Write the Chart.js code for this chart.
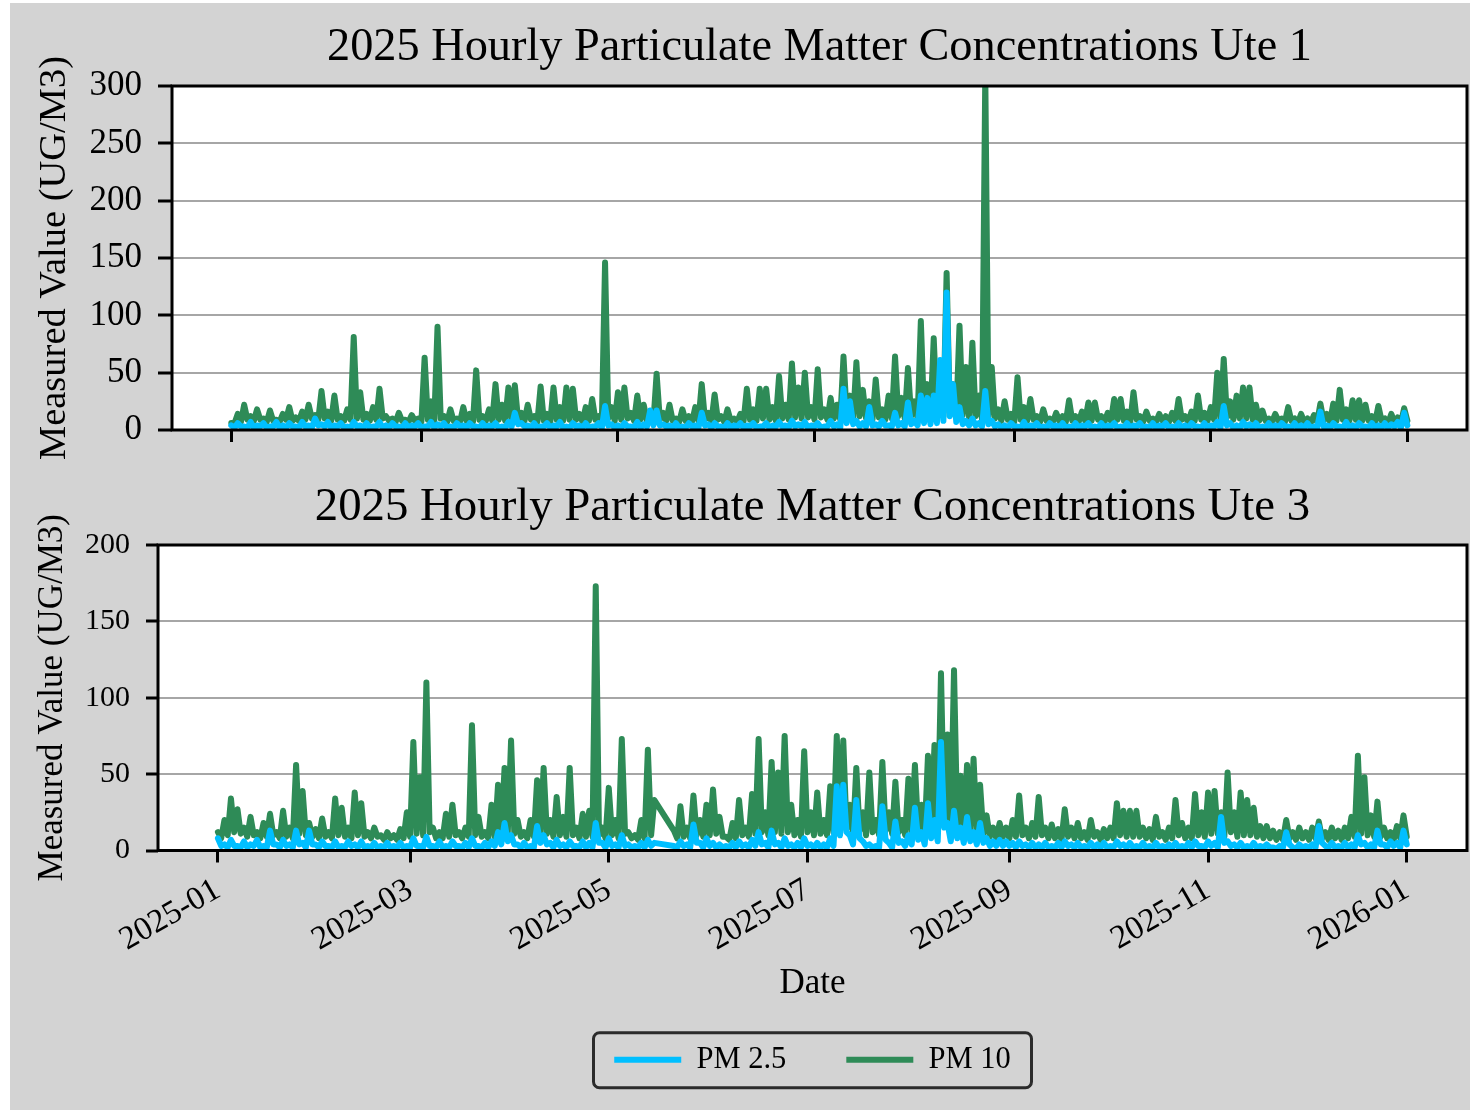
<!DOCTYPE html>
<html>
<head>
<meta charset="utf-8">
<script src="https://cdn.jsdelivr.net/npm/chart.js@4.4.1/dist/chart.umd.min.js"></script>
<style>
  html, body { margin: 0; padding: 0; background: #fff; }
  #fig { position: absolute; left: 10px; top: 3px; width: 1460px; height: 1107px; background: #d3d3d3; overflow: hidden; }
  #fig canvas { position: absolute; left: 0; }
  #c1 { top: 0; }
  #c2 { top: 467px; }
</style>
</head>
<body>
<div id="fig">
  <canvas id="c1" width="1460" height="467"></canvas>
  <canvas id="c2" width="1460" height="640"></canvas>
</div>
<script>
(function () {
  "use strict";
  if (typeof Chart === "undefined") return;

  // readings summarised per 2-day window, day 0 = 2025-01-01:
  // *_PEAK = high of the window (plotted on the even day), *_LOW = low (on the odd day)
  var STEP_DAYS = 2;
  var MONTH_DAYS = [0, 59, 120, 181, 243, 304, 365];
  var MONTH_LABELS = ["2025-01", "2025-03", "2025-05", "2025-07", "2025-09", "2025-11", "2026-01"];
  var SERIES = ["PM 2.5", "PM 10"];
  var TITLE_1 = "2025 Hourly Particulate Matter Concentrations Ute 1";
  var TITLE_3 = "2025 Hourly Particulate Matter Concentrations Ute 3";

  var UTE1_PM25_PEAK = [
    4, 6, 3, 7, 4, 6, 3, 7, 4, 6,
    3, 7, 4, 10, 5, 7, 4, 6, 3, 7,
    4, 6, 3, 7, 4, 6, 3, 6, 4, 6,
    3, 7, 5, 6, 3, 6, 4, 6, 3, 6,
    4, 6, 3, 7, 15, 6, 4, 6, 3, 6,
    4, 7, 3, 6, 4, 6, 3, 6, 21, 5,
    4, 6, 3, 7, 5, 17, 17, 5, 4, 6,
    3, 6, 4, 15, 5, 6, 3, 6, 4, 6,
    4, 6, 3, 6, 4, 7, 4, 8, 5, 7,
    4, 6, 3, 8, 5, 36, 25, 8, 6, 20,
    5, 8, 4, 15, 6, 24, 8, 30, 28, 30,
    61, 120, 40, 20, 8, 10, 6, 34, 8, 5,
    4, 6, 3, 7, 4, 6, 3, 6, 4, 6,
    3, 6, 4, 6, 3, 6, 4, 6, 3, 6,
    4, 6, 3, 6, 4, 6, 3, 6, 4, 6,
    3, 6, 4, 7, 21, 6, 4, 7, 5, 6,
    3, 6, 4, 6, 3, 6, 4, 6, 3, 16,
    4, 6, 3, 7, 4, 6, 3, 6, 4, 6,
    5, 7, 15
  ];
  var UTE1_PM25_LOW = [
    2, 3, 2, 2, 3, 2, 3, 2, 2, 3,
    2, 3, 2, 4, 3, 2, 3, 2, 2, 3,
    2, 2, 3, 2, 2, 3, 2, 2, 3, 2,
    3, 2, 3, 2, 2, 3, 2, 3, 2, 2,
    3, 2, 2, 3, 5, 3, 2, 2, 3, 2,
    3, 2, 2, 3, 2, 2, 3, 2, 4, 2,
    2, 3, 2, 2, 3, 4, 4, 3, 2, 2,
    2, 3, 2, 4, 2, 3, 2, 2, 3, 2,
    3, 2, 3, 2, 3, 3, 2, 3, 3, 2,
    3, 2, 3, 3, 2, 6, 5, 3, 3, 4,
    3, 4, 3, 4, 3, 5, 4, 6, 5, 6,
    8, 12, 7, 5, 4, 4, 3, 5, 3, 2,
    2, 3, 2, 2, 3, 2, 2, 3, 2, 2,
    2, 2, 3, 2, 2, 2, 3, 2, 2, 2,
    3, 2, 2, 2, 3, 2, 2, 2, 2, 3,
    2, 2, 3, 2, 4, 2, 2, 3, 2, 2,
    2, 2, 2, 3, 2, 2, 2, 2, 2, 3,
    2, 3, 2, 2, 2, 3, 2, 2, 2, 2,
    3, 2, 4
  ];
  var UTE1_PM10_PEAK = [
    6, 14, 22, 12, 18, 10, 17, 9, 14, 20,
    11, 16, 22, 13, 34, 16, 30, 12, 18, 81,
    33, 14, 20, 36, 12, 10, 15, 9, 13, 10,
    63, 25, 90, 12, 18, 10, 20, 14, 52, 12,
    18, 40, 22, 37, 39, 15, 22, 12, 38, 14,
    37, 20, 37, 36, 14, 20, 27, 12, 146, 20,
    33, 37, 15, 30, 22, 12, 49, 15, 22, 10,
    18, 12, 20, 40, 15, 31, 12, 18, 10, 14,
    36, 18, 36, 36, 20, 47, 22, 58, 37, 50,
    20, 53, 18, 28, 22, 64, 30, 59, 35, 25,
    44, 18, 30, 64, 28, 54, 25, 95, 40, 80,
    45, 137, 40, 91, 55, 76, 30, 310, 55, 18,
    25, 14, 46, 20, 27, 12, 18, 10, 15, 12,
    26, 12, 16, 24, 24, 12, 15, 27, 27, 16,
    33, 12, 16, 10, 14, 12, 15, 27, 12, 16,
    30, 15, 20, 50, 62, 25, 30, 37, 37, 22,
    17, 10, 14, 10, 20, 10, 14, 10, 13, 23,
    14, 23, 35, 18, 26, 26, 22, 12, 21, 10,
    14, 11, 19
  ];
  var UTE1_PM10_LOW = [
    6, 7, 9, 8, 9, 7, 8, 7, 9, 8,
    8, 9, 10, 9, 10, 8, 9, 8, 9, 10,
    9, 8, 9, 10, 8, 7, 8, 7, 8, 7,
    9, 8, 10, 7, 8, 7, 8, 7, 9, 8,
    8, 9, 8, 10, 9, 8, 9, 7, 8, 7,
    9, 8, 9, 9, 7, 8, 9, 7, 10, 8,
    9, 10, 8, 9, 8, 7, 9, 8, 8, 7,
    8, 7, 8, 9, 7, 9, 7, 8, 7, 8,
    9, 8, 10, 9, 8, 10, 9, 11, 10, 11,
    9, 11, 9, 10, 9, 12, 10, 12, 10, 9,
    11, 9, 10, 12, 10, 12, 10, 14, 11, 13,
    12, 15, 11, 13, 10, 12, 9, 11, 10, 8,
    9, 7, 9, 8, 9, 7, 8, 7, 8, 7,
    8, 7, 8, 8, 9, 7, 8, 9, 8, 7,
    9, 7, 8, 7, 8, 7, 8, 9, 7, 8,
    9, 8, 9, 10, 11, 9, 10, 10, 9, 8,
    8, 7, 8, 7, 8, 6, 7, 6, 7, 8,
    7, 8, 9, 8, 9, 8, 8, 7, 8, 6,
    7, 6, 8
  ];
  var UTE3_PM25_PEAK = [
    8, 4, 7, 3, 6, 4, 7, 3, 13, 4,
    7, 4, 13, 5, 13, 4, 6, 3, 6, 3,
    6, 4, 6, 3, 5, 3, 5, 3, 5, 3,
    8, 3, 9, 3, 6, 3, 6, 3, 5, 8,
    3, 5, 6, 12, 18, 10, 4, 5, 3, 16,
    10, 5, 7, 4, 6, 3, 6, 5, 18, 5,
    8, 4, 10, 4, 3, 5, 7, 5, null, null,
    3, 6, 4, 17, 5, 8, 5, 4, 3, 5,
    6, 4, 7, 12, 5, 13, 5, 8, 4, 5,
    8, 4, 5, 4, 8, 42, 43, 10, 33, 6,
    4, 3, 29, 5, 19, 6, 10, 28, 12, 31,
    20, 71, 18, 26, 15, 22, 12, 18, 8, 6,
    7, 6, 5, 6, 4, 5, 4, 5, 3, 5,
    6, 4, 5, 3, 5, 4, 5, 3, 6, 4,
    5, 3, 5, 3, 5, 3, 4, 5, 3, 5,
    6, 3, 6, 5, 22, 6, 4, 5, 3, 5,
    3, 4, 2, 3, 12, 2, 4, 3, 4, 16,
    3, 5, 3, 5, 4, 10, 5, 4, 13, 4,
    6, 5, 13
  ];
  var UTE3_PM25_LOW = [
    3, 2, 3, 2, 2, 3, 2, 2, 4, 2,
    3, 2, 4, 2, 4, 2, 3, 2, 2, 2,
    3, 2, 2, 2, 2, 2, 2, 2, 2, 2,
    3, 2, 3, 2, 2, 2, 3, 2, 2, 3,
    2, 2, 3, 4, 6, 4, 2, 2, 2, 5,
    4, 2, 3, 2, 3, 2, 2, 2, 5, 2,
    3, 2, 3, 2, 2, 2, 3, null, null, null,
    2, 3, 2, 5, 2, 3, 2, 2, 2, 2,
    3, 2, 3, 4, 2, 4, 2, 3, 2, 2,
    3, 2, 2, 2, 3, 10, 12, 4, 8, 3,
    2, 2, 7, 2, 5, 3, 4, 7, 4, 8,
    6, 15, 6, 8, 5, 6, 4, 5, 3, 3,
    3, 3, 2, 3, 2, 2, 2, 2, 2, 2,
    3, 2, 2, 2, 2, 2, 2, 2, 3, 2,
    2, 2, 2, 2, 2, 2, 2, 2, 2, 2,
    3, 2, 3, 2, 5, 3, 2, 2, 2, 2,
    2, 2, 1, 2, 4, 1, 2, 2, 2, 5,
    2, 2, 2, 2, 2, 4, 2, 2, 4, 2,
    3, 2, 4
  ];
  var UTE3_PM10_PEAK = [
    12, 20, 34, 27, 15, 22, 12, 18, 24, 12,
    26, 15, 56, 39, 18, 14, 21, 12, 34, 28,
    15, 38, 31, 12, 15, 10, 12, 10, 14, 25,
    71, 48, 110, 15, 12, 24, 30, 12, 15, 82,
    22, 12, 30, 43, 54, 72, 20, 12, 20, 46,
    54, 20, 35, 22, 54, 15, 24, 26, 173, 15,
    41, 20, 73, 12, 10, 20, 66, 33, null, null,
    13, 29, 15, 36, 20, 30, 40, 22, 9, 18,
    33, 15, 37, 73, 25, 58, 51, 75, 30, 20,
    65, 25, 38, 20, 42, 75, 72, 30, 54, 25,
    51, 20, 58, 25, 45, 20, 47, 56, 30, 62,
    69, 116, 76, 118, 49, 56, 60, 43, 23, 15,
    18, 15, 20, 36, 15, 18, 35, 15, 17, 14,
    27, 15, 18, 12, 20, 12, 14, 15, 31, 26,
    26, 26, 15, 14, 22, 12, 15, 33, 18, 15,
    37, 25, 38, 39, 25, 51, 25, 38, 33, 28,
    16, 16, 13, 12, 20, 12, 15, 12, 15, 19,
    12, 15, 13, 15, 22, 62, 48, 23, 32, 15,
    12, 16, 23
  ];
  var UTE3_PM10_LOW = [
    8, 10, 12, 11, 9, 10, 8, 9, 10, 8,
    9, 8, 11, 10, 9, 8, 9, 8, 10, 9,
    8, 10, 9, 8, 9, 7, 8, 7, 8, 9,
    11, 10, 12, 8, 8, 9, 10, 8, 9, 10,
    9, 8, 9, 11, 12, 11, 9, 8, 9, 10,
    11, 9, 10, 9, 10, 8, 9, 9, 10, 8,
    10, 8, 11, 8, 7, 8, 10, null, null, null,
    8, 9, 8, 10, 9, 10, 11, 9, 7, 8,
    10, 9, 11, 12, 10, 12, 11, 12, 10, 9,
    12, 10, 11, 10, 12, 15, 14, 11, 13, 10,
    12, 10, 13, 11, 12, 10, 12, 13, 11, 14,
    14, 16, 15, 16, 12, 13, 12, 11, 9, 8,
    9, 8, 9, 10, 8, 9, 10, 8, 8, 7,
    9, 8, 8, 7, 9, 7, 8, 8, 10, 9,
    9, 9, 8, 7, 9, 7, 8, 10, 8, 8,
    10, 9, 11, 11, 9, 12, 9, 10, 10, 9,
    8, 8, 7, 7, 8, 7, 8, 7, 8, 8,
    7, 8, 7, 8, 9, 11, 10, 9, 9, 8,
    7, 8, 9
  ];

  var COLORS = {
    pm25: "#00bfff",
    pm10: "#2e8b57",
    grid: "#a6a6a6",
    ink: "#000000",
    frame: "#2b2b2b",
  };
  var SERIF = '"Liberation Serif", "Times New Roman", serif';

  Chart.defaults.font.family = SERIF;
  Chart.defaults.color = COLORS.ink;

  function points(peak, low) {
    var out = [];
    peak.forEach(function (v, i) {
      out.push({ x: i * STEP_DAYS, y: v });
      out.push({ x: i * STEP_DAYS + 1, y: low[i] });
    });
    return out;
  }

  function dataset(label, peak, low, color) {
    return {
      label: label, data: points(peak, low),
      borderColor: color, backgroundColor: color, borderWidth: 6,
      pointRadius: 0, tension: 0, spanGaps: true, fill: false,
      borderJoinStyle: "round", borderCapStyle: "round", clip: 0,
    };
  }

  // white plot area + black box around it
  var plotBox = {
    id: "plotBox",
    beforeDraw: function (chart) {
      var a = chart.chartArea, ctx = chart.ctx;
      ctx.save();
      ctx.fillStyle = "#ffffff";
      ctx.fillRect(a.left, a.top, a.right - a.left, a.bottom - a.top);
      ctx.restore();
    },
    afterDatasetsDraw: function (chart) {
      var a = chart.chartArea, ctx = chart.ctx;
      ctx.save();
      ctx.strokeStyle = COLORS.ink;
      ctx.lineWidth = 3;
      ctx.strokeRect(a.left, a.top, a.right - a.left, a.bottom - a.top);
      ctx.restore();
    },
  };

  // rounded frame round the legend entries
  var legendFrame = {
    id: "legendFrame",
    afterDraw: function (chart) {
      var lg = chart.legend;
      if (!lg || !lg.options.display || !lg.legendHitBoxes || !lg.legendHitBoxes.length) return;
      var hb = lg.legendHitBoxes, a = hb[0], b = hb[hb.length - 1];
      var cy = a.top + a.height / 2;
      var mid = (a.left + b.left + b.width) / 2;
      var ctx = chart.ctx;
      ctx.save();
      ctx.strokeStyle = COLORS.frame;
      ctx.lineWidth = 3;
      ctx.beginPath();
      ctx.roundRect(mid - 219, cy - 27, 438, 55, 6);
      ctx.stroke();
      ctx.restore();
    },
  };

  function xAxis(showLabels, height, title) {
    return {
      type: "linear", min: -18.4, max: 383.5,
      afterBuildTicks: function (s) { s.ticks = MONTH_DAYS.map(function (d) { return { value: d }; }); },
      afterFit: function (s) { s.height = height; },
      border: { display: false },
      grid: { display: true, drawOnChartArea: false, drawTicks: true, tickLength: 12, tickColor: COLORS.ink, tickWidth: 3 },
      ticks: {
        display: showLabels, autoSkip: false, minRotation: 30, maxRotation: 30, padding: 8,
        color: COLORS.ink, font: { size: 33 },
        callback: function (v) { var i = MONTH_DAYS.indexOf(v); return i < 0 ? "" : MONTH_LABELS[i]; },
      },
      title: title || { display: false },
    };
  }

  function yAxis(max, width, tickSize, tickLen, titleSize, titlePad) {
    return {
      min: 0, max: max,
      afterFit: function (s) { s.width = width; },
      border: { display: false },
      grid: { color: COLORS.grid, lineWidth: 2, tickColor: COLORS.ink, tickWidth: 3, tickLength: tickLen },
      ticks: { stepSize: 50, padding: 16, color: COLORS.ink, font: { size: tickSize } },
      title: {
        display: true, text: "Measured Value (UG/M3)", color: COLORS.ink,
        font: { size: titleSize, lineHeight: 1 }, padding: { top: titlePad, bottom: 0 },
      },
    };
  }

  function titleOpts(text, size, top, bottom) {
    return {
      display: true, text: text, fullSize: false, color: COLORS.ink,
      font: { size: size, weight: "normal", lineHeight: 1 }, padding: { top: top, bottom: bottom },
    };
  }

  new Chart(document.getElementById("c1"), {
    type: "line",
    data: {
      datasets: [
        dataset(SERIES[0], UTE1_PM25_PEAK, UTE1_PM25_LOW, COLORS.pm25),
        dataset(SERIES[1], UTE1_PM10_PEAK, UTE1_PM10_LOW, COLORS.pm10),
      ],
    },
    options: {
      responsive: false, animation: false, devicePixelRatio: 1,
      layout: { padding: { left: 0, right: 3, top: 0, bottom: 0 } },
      plugins: { legend: { display: false }, tooltip: { enabled: false }, title: titleOpts(TITLE_1, 46.3, 21.6, 15.1) },
      scales: { x: xAxis(false, 40), y: yAxis(300, 162, 35, 14, 38.5, 25.7) },
    },
    plugins: [plotBox],
  });

  new Chart(document.getElementById("c2"), {
    type: "line",
    data: {
      datasets: [
        dataset(SERIES[0], UTE3_PM25_PEAK, UTE3_PM25_LOW, COLORS.pm25),
        dataset(SERIES[1], UTE3_PM10_PEAK, UTE3_PM10_LOW, COLORS.pm10),
      ],
    },
    options: {
      responsive: false, animation: false, devicePixelRatio: 1,
      layout: { padding: { left: 0, right: 3, top: 0, bottom: 25 } },
      plugins: {
        tooltip: { enabled: false },
        title: titleOpts(TITLE_3, 46.8, 14, 14.2),
        legend: {
          display: true, position: "bottom", fullSize: false,
          labels: {
            color: COLORS.ink, font: { size: 30.5 }, boxWidth: 67, boxHeight: 6, padding: 60,
            generateLabels: function (chart) {
              return Chart.defaults.plugins.legend.labels.generateLabels(chart).map(function (l) { l.lineWidth = 0; return l; });
            },
          },
        },
      },
      scales: {
        x: xAxis(true, 134, { display: true, text: "Date", color: COLORS.ink, font: { size: 35, lineHeight: 1 }, padding: { top: 0, bottom: -17 } }),
        y: yAxis(200, 148, 30, 12, 35, 25.5),
      },
    },
    plugins: [plotBox, legendFrame],
  });
})();
</script>
</body>
</html>
